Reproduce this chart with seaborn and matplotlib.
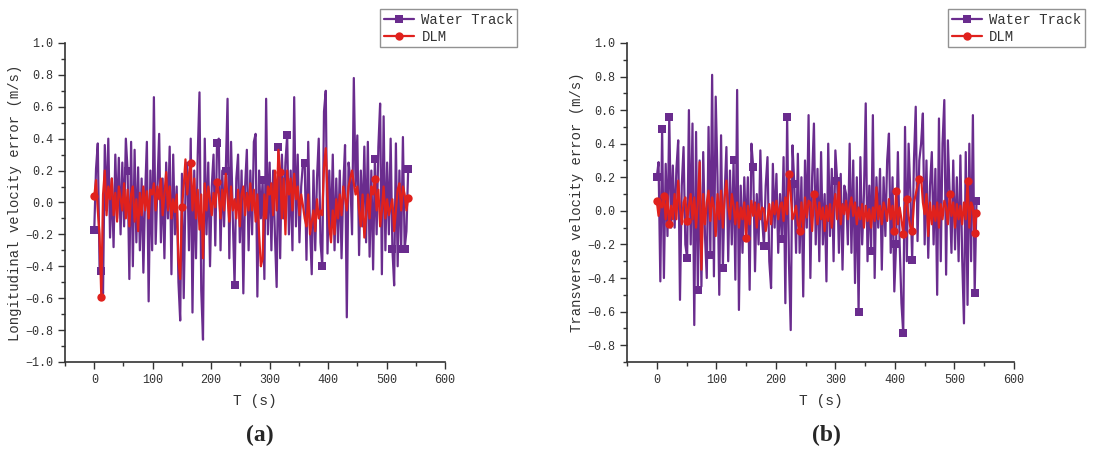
import numpy as np
import pandas as pd
import matplotlib
matplotlib.use("Agg")
import matplotlib.pyplot as plt
from matplotlib.lines import Line2D
from matplotlib.ticker import MultipleLocator, FuncFormatter
import seaborn as sns

# time axis (s), one sample every 3 s
t = np.arange(0, 540, 3)

# (a) longitudinal velocity error (m/s)
wt_long = [
    -0.17, 0.21, 0.37, -0.40, -0.43, -0.57, 0.36, -0.05, 0.40, -0.22,
    0.15, -0.28, 0.30, -0.10, 0.28, -0.20, 0.25, -0.15, 0.40, 0.20,
    -0.48, 0.38, -0.40, 0.33, -0.25, 0.22, -0.30, 0.15, -0.44, 0.05,
    0.38, -0.62, 0.20, -0.30, 0.66, -0.26, 0.10, 0.43, -0.25, 0.15,
    -0.35, 0.25, -0.10, 0.35, -0.45, 0.30, -0.20, 0.10, -0.50, -0.74,
    0.18, -0.60, 0.05, 0.25, -0.30, 0.40, -0.69, 0.20, -0.35, 0.30,
    0.69, -0.55, -0.86, 0.40, -0.20, 0.25, -0.40, 0.10, 0.30, -0.27,
    0.37, 0.40, -0.30, 0.20, -0.15, 0.20, 0.65, -0.35, 0.38, -0.10,
    -0.52, 0.15, 0.30, -0.25, 0.20, -0.57, 0.10, 0.33, -0.30, 0.20,
    -0.20, 0.38, 0.43, -0.59, 0.20, -0.10, 0.14, -0.48, 0.65, -0.20,
    0.25, -0.30, 0.20, -0.20, -0.53, 0.35, -0.35, 0.30, -0.10, 0.25,
    0.42, -0.20, 0.20, -0.30, 0.66, -0.15, 0.30, -0.25, 0.10, 0.25,
    0.25, -0.36, 0.38, -0.15, -0.45, 0.20, -0.30, 0.15, 0.40, -0.25,
    -0.40, 0.57, 0.70, -0.32, 0.20, -0.20, 0.30, -0.30, 0.15, -0.25,
    0.20, -0.35, 0.10, 0.36, -0.72, 0.25, 0.15, -0.20, 0.78, 0.10,
    0.42, -0.33, 0.20, -0.15, 0.35, -0.25, 0.38, -0.34, 0.20, -0.42,
    0.27, -0.20, 0.35, 0.62, -0.45, 0.54, -0.30, 0.25, -0.20, 0.40,
    -0.29, -0.52, 0.37, -0.40, 0.20, -0.29, 0.41, -0.29, -0.18, 0.21,
]
dlm_long = [
    0.04, 0.14, -0.05, -0.20, -0.59, 0.05, 0.20, -0.08, 0.10, 0.02,
    0.15, -0.08, 0.06, -0.12, 0.10, 0.03, -0.05, 0.12, -0.10, 0.08,
    -0.15, 0.05, 0.10, -0.12, 0.02, -0.18, 0.06, -0.08, 0.10, -0.05,
    0.07, -0.10, 0.08, 0.05, 0.12, -0.05, 0.10, 0.02, 0.15, -0.08,
    0.05, 0.19, -0.05, 0.10, -0.10, 0.02, -0.06, 0.05, -0.36, -0.48,
    -0.03, 0.10, 0.27, 0.05, 0.18, 0.25, -0.05, 0.15, -0.10, 0.08,
    -0.17, 0.05, -0.35, 0.12, -0.05, 0.10, 0.02, -0.08, 0.06, -0.03,
    0.13, 0.05, -0.10, 0.08, -0.05, 0.18, 0.03, -0.12, 0.10, -0.05,
    0.02, -0.10, 0.08, -0.15, 0.05, 0.10, -0.08, 0.06, -0.05, 0.12,
    -0.05, 0.08, -0.12, 0.05, -0.20, -0.40, -0.35, 0.05, -0.10, 0.10,
    0.05, 0.12, -0.08, 0.20, -0.05, 0.33, 0.19, -0.10, 0.15, -0.20,
    0.20, 0.05, 0.15, -0.05, 0.18, 0.02, 0.10, -0.08, 0.05, -0.02,
    -0.10, -0.15, 0.05, -0.20, -0.12, -0.05, -0.18, 0.02, -0.10, -0.05,
    -0.08, 0.22, 0.34, 0.05, -0.15, -0.25, -0.05, -0.20, 0.02, -0.10,
    0.05, -0.08, 0.10, 0.03, -0.05, 0.10, 0.15, 0.20, 0.12, 0.05,
    0.10, -0.05, -0.15, 0.05, -0.22, -0.08, 0.05, -0.10, 0.10, 0.05,
    0.15, -0.05, 0.08, -0.15, -0.05, 0.10, -0.10, 0.02, -0.08, -0.03,
    0.02, -0.18, -0.05, 0.08, 0.12, -0.05, 0.10, 0.05, -0.05, 0.03,
]

# (b) transverse velocity error (m/s)
wt_trans = [
    0.20, 0.29, -0.42, 0.49, -0.40, 0.28, -0.15, 0.56, -0.10, 0.27,
    -0.10, 0.25, 0.42, -0.53, 0.15, 0.38, -0.20, -0.28, 0.60, -0.20,
    0.52, -0.68, 0.47, -0.47, 0.30, -0.45, 0.35, -0.15, -0.40, 0.50,
    -0.26, 0.81, -0.39, 0.68, 0.20, -0.50, 0.45, -0.34, 0.10, 0.38,
    -0.30, 0.24, -0.20, 0.30, -0.41, 0.72, -0.59, 0.15, -0.25, 0.20,
    -0.15, 0.20, -0.47, 0.40, 0.26, -0.36, 0.10, -0.20, 0.36, -0.05,
    -0.21, 0.15, 0.32, -0.30, -0.46, 0.28, -0.10, 0.22, -0.25, 0.10,
    -0.17, 0.32, -0.55, 0.56, -0.30, -0.71, 0.39, 0.16, -0.25, 0.34,
    -0.25, 0.20, -0.51, 0.30, -0.10, 0.57, -0.40, 0.20, 0.52, -0.20,
    0.25, -0.30, 0.35, -0.20, 0.10, -0.42, 0.40, -0.15, 0.25, -0.30,
    0.36, 0.18, -0.25, 0.22, -0.35, 0.15, 0.10, -0.20, 0.40, -0.25,
    0.30, -0.43, 0.20, -0.60, 0.32, -0.20, 0.10, 0.64, -0.30, 0.15,
    -0.24, 0.57, -0.40, 0.20, -0.10, 0.25, -0.35, 0.20, -0.15, 0.30,
    0.46, -0.25, 0.20, -0.48, -0.20, 0.35, -0.20, -0.55, -0.73, 0.50,
    -0.30, 0.40, 0.10, -0.29, 0.30, 0.62, -0.18, 0.30, 0.40, 0.58,
    -0.20, 0.30, -0.28, 0.15, 0.35, -0.20, 0.25, -0.50, 0.55, -0.30,
    0.40, 0.66, -0.38, 0.42, 0.10, -0.25, 0.30, -0.23, 0.20, -0.30,
    0.33, -0.28, -0.67, 0.35, -0.56, 0.40, -0.30, 0.57, -0.49, 0.06,
]
dlm_trans = [
    0.06, -0.03, 0.05, 0.02, 0.09, -0.05, 0.08, -0.08, 0.03, -0.05,
    0.10, -0.05, 0.18, 0.02, -0.08, 0.05, 0.08, -0.06, 0.03, 0.10,
    -0.05, 0.08, -0.10, 0.05, 0.29, -0.35, 0.10, -0.08, 0.05, 0.12,
    -0.06, 0.08, 0.02, -0.15, 0.10, -0.05, 0.12, -0.10, 0.08, 0.18,
    0.02, -0.05, 0.10, 0.03, -0.08, 0.05, -0.10, 0.02, -0.05, 0.05,
    -0.16, 0.03, -0.08, 0.06, -0.03, 0.05, -0.10, 0.04, -0.05, 0.02,
    0.01, -0.12, -0.05, 0.04, -0.08, 0.05, -0.02, 0.06, -0.05, 0.03,
    0.05, -0.06, 0.08, -0.02, 0.22, 0.10, -0.05, -0.02, 0.03, -0.08,
    -0.12, 0.05, -0.10, 0.08, -0.04, 0.06, 0.05, -0.12, 0.10, 0.03,
    -0.08, 0.05, -0.05, 0.02, -0.12, 0.03, -0.06, 0.04, -0.10, 0.02,
    0.10, -0.05, 0.17, -0.08, 0.04, -0.02, 0.06, -0.05, 0.03, 0.08,
    -0.03, 0.05, -0.08, 0.02, -0.05, 0.04, -0.10, 0.03, -0.06, 0.01,
    -0.10, 0.02, -0.06, 0.14, -0.05, 0.03, -0.08, 0.05, 0.01, -0.06,
    0.07, -0.05, 0.03, -0.12, 0.12, -0.08, 0.02, -0.05, -0.14, 0.03,
    0.07, -0.03, -0.10, -0.12, 0.05, 0.10, 0.15, 0.19, 0.20, 0.05,
    -0.02, 0.10, -0.15, 0.05, -0.08, 0.03, -0.06, 0.05, -0.10, 0.04,
    -0.05, 0.06, 0.02, -0.08, 0.10, -0.03, 0.05, -0.10, 0.04, -0.05,
    0.03, -0.08, 0.05, -0.05, 0.18, -0.10, 0.05, 0.02, -0.13, -0.01,
]

# sample indices that carry a marker (as in the original)
wt_long_marks = [0, 4, 19, 70, 75, 80, 96, 105, 110, 120, 130, 160, 170, 175, 177, 179]
dlm_long_marks = [0, 4, 50, 55, 70, 106, 160, 179]
wt_trans_marks = [0, 3, 7, 17, 23, 30, 37, 43, 54, 60, 70, 73, 77, 101, 113, 120, 134, 138, 143, 178, 179]
dlm_trans_marks = [0, 4, 7, 17, 50, 74, 80, 88, 133, 134, 138, 140, 143, 147, 164, 174, 178, 179]

purple = "#6a2c8e"
red = "#e0211d"
gray = "#333333"

sns.set_style("ticks")
plt.rcParams["font.family"] = ["Liberation Mono", "DejaVu Sans"]
plt.rcParams["axes.unicode_minus"] = True

fig = plt.figure(figsize=(10.95, 4.5), dpi=100)
ax_a = fig.add_axes([0.0594, 0.1956, 0.347, 0.709])
ax_b = fig.add_axes([0.5726, 0.1956, 0.3534, 0.709])

df_a = pd.DataFrame({"t": t, "wt": wt_long, "dlm": dlm_long})
df_b = pd.DataFrame({"t": t, "wt": wt_trans, "dlm": dlm_trans})


def fmt(v, pos):
    s = "%.1f" % v
    return s.replace("-", "\u2212")


def draw(ax, df, wt_marks, dlm_marks, ylim, ylabel):
    sns.lineplot(data=df, x="t", y="wt", ax=ax, color=purple, lw=1.6, sort=False,
                 marker="s", markersize=6, markeredgewidth=0, markevery=wt_marks)
    sns.lineplot(data=df, x="t", y="dlm", ax=ax, color=red, lw=1.6, sort=False,
                 marker="o", markersize=6, markeredgewidth=0, markevery=dlm_marks)
    ax.set_xlim(-50, 600)
    ax.set_ylim(*ylim)
    ax.xaxis.set_major_locator(MultipleLocator(100))
    ax.xaxis.set_minor_locator(MultipleLocator(50))
    ax.yaxis.set_major_locator(MultipleLocator(0.2))
    ax.yaxis.set_minor_locator(MultipleLocator(0.1))
    ax.yaxis.set_major_formatter(FuncFormatter(fmt))
    ax.tick_params(which="major", direction="out", length=5, width=1, colors=gray, labelsize=8.5)
    ax.tick_params(which="minor", direction="out", length=3, width=1, colors=gray)
    for sp in ["top", "right"]:
        ax.spines[sp].set_visible(False)
    for sp in ["left", "bottom"]:
        ax.spines[sp].set_color(gray)
        ax.spines[sp].set_linewidth(1.2)
    ax.set_xlabel("T (s)", fontsize=10.5, color=gray, labelpad=6)
    ax.set_ylabel(ylabel, fontsize=10, color=gray, labelpad=2)
    handles = [
        Line2D([], [], color=purple, lw=1.6, marker="s", markersize=6, markeredgewidth=0),
        Line2D([], [], color=red, lw=1.6, marker="o", markersize=6, markeredgewidth=0),
    ]
    leg = ax.legend(handles, ["Water Track", "DLM"], loc="upper left",
                    bbox_to_anchor=(0.83, 1.105), frameon=True, fancybox=False,
                    fontsize=10, handlelength=2.2, borderpad=0.25, labelspacing=0.2,
                    handletextpad=0.5, borderaxespad=0)
    leg.get_frame().set_edgecolor("#777777")
    leg.get_frame().set_linewidth(1.0)
    for txt in leg.get_texts():
        txt.set_color(gray)


draw(ax_a, df_a, wt_long_marks, dlm_long_marks, (-1.0, 1.0), "Longitudinal velocity error (m/s)")
draw(ax_b, df_b, wt_trans_marks, dlm_trans_marks, (-0.9, 1.0), "Transverse velocity error (m/s)")

fig.text(0.2375, 0.033, "(a)", ha="center", va="center", fontsize=17, fontweight="bold",
         family="Liberation Serif")
fig.text(0.7545, 0.033, "(b)", ha="center", va="center", fontsize=17, fontweight="bold",
         family="Liberation Serif")

fig.savefig("out.png", dpi=100)
